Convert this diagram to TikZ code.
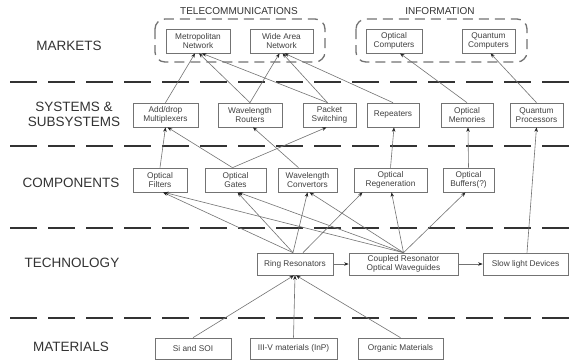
\documentclass[tikz,border=0pt]{standalone}
\usepackage{fontspec}
\setmainfont{Liberation Sans}
\usetikzlibrary{arrows.meta}
\begin{document}
\begin{tikzpicture}[x=1pt,y=-1pt,
  bx/.style={draw=black!55,line width=0.7pt,fill=white,inner sep=0pt,align=center,
    font=\fontsize{8.3}{9.2}\selectfont,text=black!75},
  rowlab/.style={align=center,font=\fontsize{13.5}{15}\selectfont,text=black!80},
  grplab/.style={font=\fontsize{10}{12}\selectfont,text=black!80},
  sep/.style={draw=black!80,line width=2.2pt,dash pattern=on 27pt off 11pt},
  grp/.style={draw=black!55,line width=1.3pt,dash pattern=on 10pt off 6pt,rounded corners=10pt},
  ar/.style={draw=black!55,line width=0.6pt,-{Stealth[length=4.5pt,width=3.5pt,black!85]}}
]
\useasboundingbox (0,0) rectangle (574,360);
\fill[white] (0,0) rectangle (574,360);

% separators
\coordinate (s1a) at (10,82);  \coordinate (s1b) at (574,82);
\coordinate (s2a) at (10,146); \coordinate (s2b) at (574,146);
\coordinate (s3a) at (10,228); \coordinate (s3b) at (574,228);
\coordinate (s4a) at (10,318); \coordinate (s4b) at (574,318);
\draw[sep] (s1a) -- (s1b);
\draw[sep] (s2a) -- (s2b);
\draw[sep] (s3a) -- (s3b);
\draw[sep] (s4a) -- (s4b);

% row labels
\node[rowlab] (lm) at (69,46) {MARKETS};
\node[rowlab] (ls) at (74,114) {SYSTEMS \&\\SUBSYSTEMS};
\node[rowlab] (lc) at (71,183) {COMPONENTS};
\node[rowlab] (lt) at (72,263) {TECHNOLOGY};
\node[rowlab] (lmat) at (71,347) {MATERIALS};

% groups
\draw[grp] (155,19) rectangle (325,62);
\draw[grp] (356,19) rectangle (527,62);
\node[grplab] (gt) at (239,11) {TELECOMMUNICATIONS};
\node[grplab] (gi) at (440,11) {INFORMATION};

% markets
\node[bx,minimum width=64pt,minimum height=24pt] (metro) at (198,41) {Metropolitan\\Network};
\node[bx,minimum width=63pt,minimum height=24pt] (wan) at (281.5,41) {Wide Area\\Network};
\node[bx,minimum width=56pt,minimum height=24pt] (optc) at (394,41) {Optical\\Computers};
\node[bx,minimum width=53pt,minimum height=24pt] (qc) at (488.5,41) {Quantum\\Computers};

% systems
\node[bx,minimum width=65pt,minimum height=24pt] (adm) at (165.5,115) {Add/drop\\Multiplexers};
\node[bx,minimum width=64pt,minimum height=24pt] (wr) at (250,115) {Wavelength\\Routers};
\node[bx,minimum width=53pt,minimum height=24pt] (ps) at (329.5,115) {Packet\\Switching};
\node[bx,minimum width=52pt,minimum height=24pt] (rep) at (393,115) {Repeaters};
\node[bx,minimum width=52pt,minimum height=24pt] (om) at (467,115) {Optical\\Memories};
\node[bx,minimum width=53pt,minimum height=24pt] (qp) at (536.5,115) {Quantum\\Processors};

% components
\node[bx,minimum width=54pt,minimum height=24pt] (of) at (160,180) {Optical\\Filters};
\node[bx,minimum width=61pt,minimum height=24pt] (og) at (235.5,180) {Optical\\Gates};
\node[bx,minimum width=59pt,minimum height=24pt] (wc) at (307.5,180) {Wavelength\\Convertors};
\node[bx,minimum width=73pt,minimum height=24pt] (oreg) at (390.5,180) {Optical\\Regeneration};
\node[bx,minimum width=51pt,minimum height=24pt] (ob) at (468.5,180) {Optical\\Buffers(?)};

% technology
\node[bx,minimum width=76pt,minimum height=22pt] (rr) at (295,264) {Ring Resonators};
\node[bx,minimum width=109pt,minimum height=22pt] (crow) at (403.5,264) {Coupled Resonator\\Optical Waveguides};
\node[bx,minimum width=85pt,minimum height=22pt] (sld) at (525.5,264) {Slow light Devices};

% materials
\node[bx,minimum width=76pt,minimum height=21pt] (si) at (193,348.5) {Si and SOI};
\node[bx,minimum width=87pt,minimum height=21pt] (iii) at (293.5,348.5) {III-V materials (InP)};
\node[bx,minimum width=85pt,minimum height=21pt] (org) at (400.5,348.5) {Organic Materials};

% materials -> technology
\draw[ar] (si.north) -- ([xshift=-1pt]rr.south);
\draw[ar] (iii.north) -- (rr.south);
\draw[ar] (org.north) -- ([xshift=1pt]rr.south);
\draw[ar] (rr.east) -- (crow.west);
\draw[ar] (crow.east) -- (sld.west);

% technology -> components
\draw[ar] ([xshift=-2pt]rr.north) -- ([xshift=3pt]of.south);
\draw[ar] ([xshift=-2pt]rr.north) -- ([xshift=2pt]og.south);
\draw[ar] ([xshift=-2pt]rr.north) -- (wc.south);
\draw[ar] ([xshift=8pt]rr.north) -- ([xshift=-28pt]oreg.south);
\draw[ar] (crow.north) -- ([xshift=4pt]of.south);
\draw[ar] (crow.north) -- ([xshift=3pt]og.south);
\draw[ar] (crow.north) -- ([xshift=2pt]wc.south);
\draw[ar] (crow.north) -- ([xshift=1pt]oreg.south);
\draw[ar] (crow.north) -- ([xshift=-3pt]ob.south);
\draw[ar] ([xshift=1.5pt]sld.north) -- (qp.south);

% components -> systems
\draw[ar] (of.north) -- (adm.south);
\draw[ar] ([xshift=-3pt]og.north) -- ([xshift=2pt]adm.south);
\draw[ar] ([xshift=-3pt]og.north) -- ([xshift=-3pt]ps.south);
\draw[ar] ([xshift=-9pt]wc.north) -- ([xshift=3pt]wr.south);
\draw[ar] (oreg.north) -- ([xshift=1pt]rep.south);
\draw[ar] (ob.north) -- ([xshift=1pt]om.south);

% systems -> markets
\draw[ar] (adm.north) -- ([xshift=-3pt]metro.south);
\draw[ar] (wr.north) -- ([xshift=1pt]metro.south);
\draw[ar] (wr.north) -- ([xshift=-2pt]wan.south);
\draw[ar] ([xshift=-2pt]ps.north) -- ([xshift=4pt]metro.south);
\draw[ar] ([xshift=-2pt]ps.north) -- ([xshift=1pt]wan.south);
\draw[ar] (rep.north) -- ([xshift=3pt]wan.south);
\draw[ar] (om.north) -- ([xshift=6pt]optc.south);
\draw[ar] (qp.north) -- ([xshift=2pt]qc.south);
\end{tikzpicture}
\end{document}
